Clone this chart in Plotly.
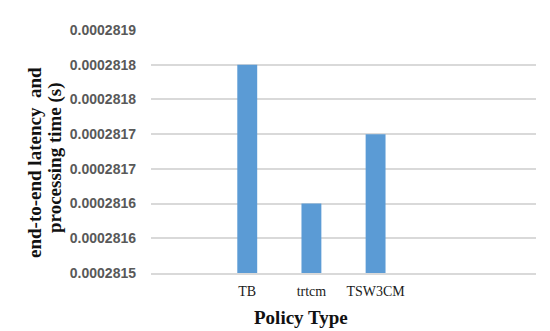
import plotly.graph_objects as go

categories = ["TB", "trtcm", "TSW3CM"]
latency = [0.0002818, 0.0002816, 0.0002817]
y_tick_vals = [0.00028150, 0.00028155, 0.00028160, 0.00028165,
               0.00028170, 0.00028175, 0.00028180, 0.00028185]
y_tick_labels = ["0.0002815", "0.0002816", "0.0002816", "0.0002817",
                 "0.0002817", "0.0002818", "0.0002818", "0.0002819"]
x_title = "Policy Type"
y_title_lines = ["end-to-end latency\u00a0 and", "processing time (s)"]

L, R, T, B = 143, 22, 22, 66
W, H = 550, 331
PW, PH = W - L - R, H - T - B

fig = go.Figure()
fig.add_trace(go.Bar(x=categories, y=latency, marker_color="#5b9bd5",
                     marker_line_width=0, width=0.31))

fig.update_layout(
    width=W, height=H,
    margin=dict(l=L, r=R, t=T, b=B),
    paper_bgcolor="white", plot_bgcolor="white",
    showlegend=False,
)
fig.update_xaxes(
    type="category", range=[-1.5, 4.5],
    showgrid=False, showline=True, linecolor="#d9d9d9", linewidth=1.5,
    ticks="outside", ticklen=4, tickcolor="rgba(0,0,0,0)",
    tickfont=dict(family="Liberation Serif", size=14, color="#1a1a1a"),
    zeroline=False,
)
fig.update_yaxes(
    range=[y_tick_vals[0], y_tick_vals[-1]],
    tickvals=y_tick_vals, ticktext=y_tick_labels,
    showgrid=True, gridcolor="#d9d9d9", gridwidth=1.5,
    zeroline=False, showline=False,
    ticks="", ticklabelstandoff=14,
    tickfont=dict(family="Liberation Sans", size=14, color="#595959", weight="bold"),
)


def px(xp):
    return (xp - L) / PW


def py(yp):
    return (H - B - yp) / PH


fig.add_annotation(text="<b>" + x_title + "</b>", xref="paper", yref="paper",
                   x=px(293), y=py(309),
                   xanchor="center", yanchor="middle", showarrow=False,
                   font=dict(family="Liberation Serif", size=19, color="#111111"))
for line, cx, cy in zip(y_title_lines, [26, 47], [155, 150]):
    fig.add_annotation(text="<b>" + line + "</b>", xref="paper", yref="paper",
                       x=px(cx), y=py(cy),
                       xanchor="center", yanchor="middle", textangle=-90, showarrow=False,
                       font=dict(family="Liberation Serif", size=19, color="#111111"))

fig.write_html("out.html")
